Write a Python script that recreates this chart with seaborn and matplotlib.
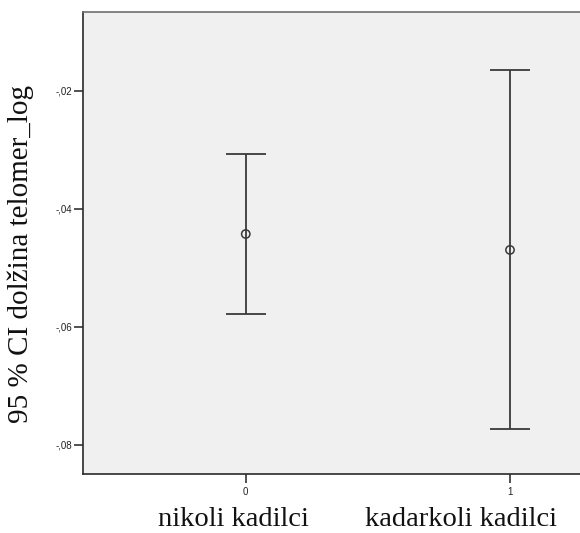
import matplotlib
matplotlib.use("Agg")
import matplotlib.pyplot as plt
from matplotlib.ticker import FixedLocator, FuncFormatter
import seaborn as sns
import pandas as pd

# Group codes on the x axis and their names
codes = [0, 1]
group_names = ["nikoli kadilci", "kadarkoli kadilci"]

# Mean and 95 % confidence interval of log telomere length
means = [-0.0443, -0.0470]
ci_low = [-0.0578, -0.0774]
ci_high = [-0.0308, -0.0165]

y_ticks = [-0.02, -0.04, -0.06, -0.08]

df = pd.DataFrame({"code": codes, "mean": means, "lo": ci_low, "hi": ci_high})

sns.set_style("white")
plt.rcParams["font.family"] = ["Liberation Sans", "DejaVu Sans"]
serif = ["Liberation Serif", "DejaVu Serif"]

W, H = 580, 533
fig = plt.figure(figsize=(W / 100, H / 100), dpi=100)
ax = fig.add_axes([83 / W, (H - 474) / H, 1 - 83 / W, (474 - 12.3) / H])
ax.set_facecolor("#f0f0f0")

line_col = "#3a3a3a"
ax.errorbar(df["code"], df["mean"],
            yerr=[df["mean"] - df["lo"], df["hi"] - df["mean"]],
            fmt="none", ecolor=line_col, elinewidth=1.3,
            capsize=14.4, capthick=1.3, zorder=2)
sns.scatterplot(data=df, x="code", y="mean", ax=ax, marker="o", s=36,
                facecolor="none", edgecolor=line_col, linewidth=1.1,
                zorder=3, legend=False)

ax.set_xlim(-0.616, 1.265)
ax.set_ylim(-0.0850, -0.0067)

ax.xaxis.set_major_locator(FixedLocator(codes))
ax.xaxis.set_major_formatter(FuncFormatter(lambda v, p: f"{int(round(v))}"))
ax.yaxis.set_major_locator(FixedLocator(y_ticks))
ax.yaxis.set_major_formatter(FuncFormatter(lambda v, p: "-," + f"{abs(v) * 100:02.0f}"))

ax.tick_params(axis="both", which="major", length=6.5, width=1.2, color="#333333",
               labelsize=7, labelcolor="#222222", pad=1.0, direction="out",
               left=True, bottom=True)
ax.tick_params(axis="x", pad=3)

for side in ["left", "bottom"]:
    ax.spines[side].set_color("#2a2a2a")
    ax.spines[side].set_linewidth(1.2)
ax.spines["top"].set_color("#6f6f6f")
ax.spines["top"].set_linewidth(1.2)
ax.spines["right"].set_visible(False)

ax.set_xlabel("")
ax.set_ylabel("")

fig.text(21 / W, (H - 254) / H, "95 % CI dolžina telomer_log", rotation=90,
         ha="center", va="center", fontsize=21, family=serif, color="#111111")

label_x = {0: 233, 1: 461}
for code, name in zip(codes, group_names):
    fig.text(label_x[code] / W, (H - 526.5) / H, name, ha="center", va="baseline",
             fontsize=20.5, family=serif, color="#111111")

fig.savefig("out.png", dpi=100, facecolor="white")
